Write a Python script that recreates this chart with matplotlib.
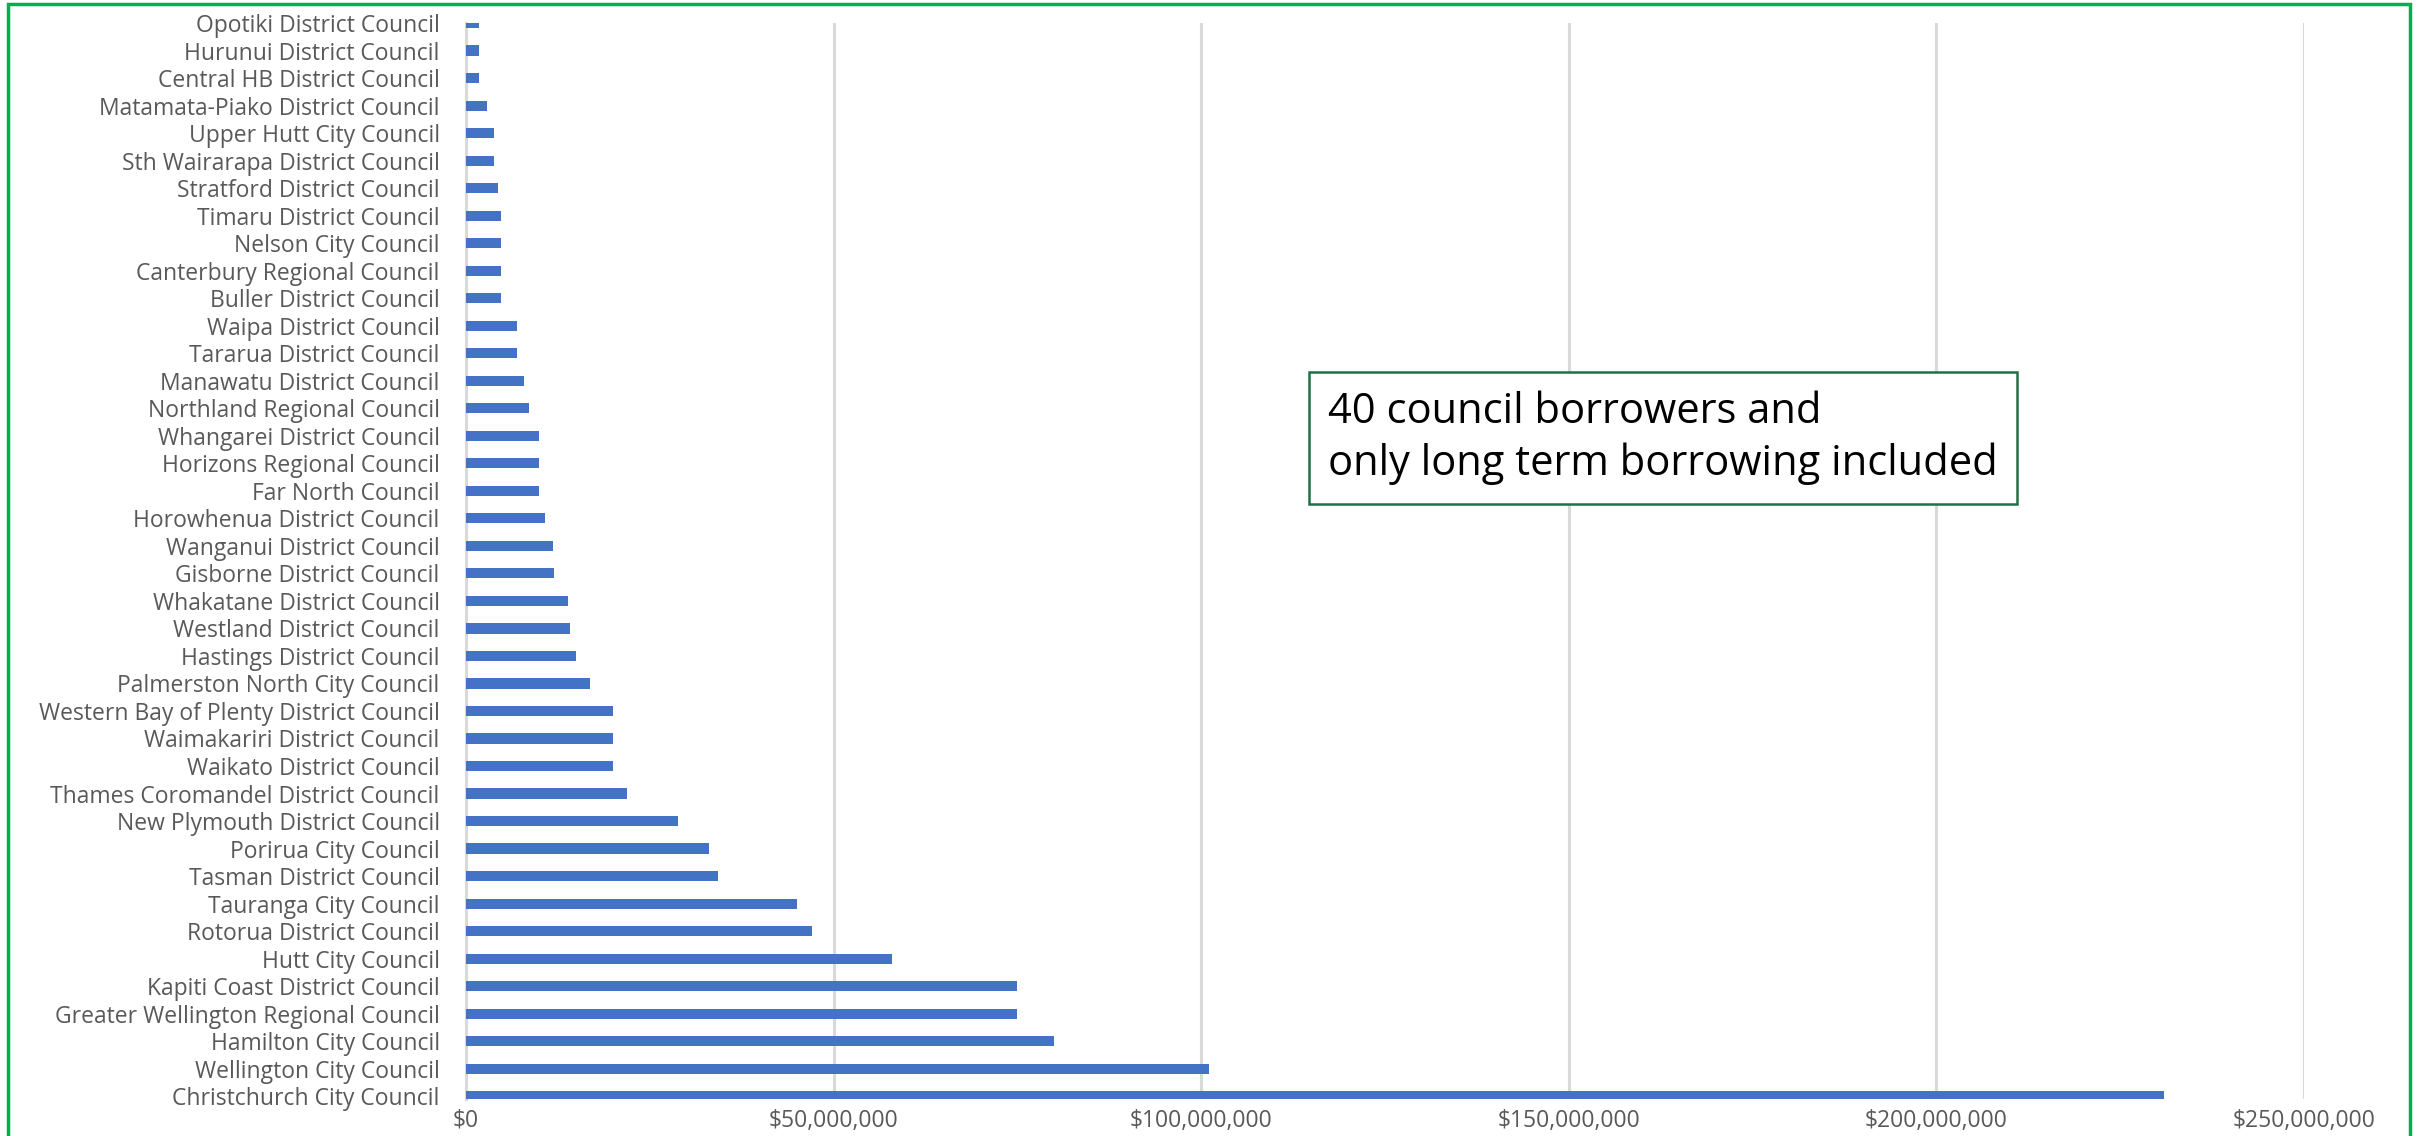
import numpy as np
import matplotlib.pyplot as plt
from matplotlib.patches import Rectangle
from matplotlib.ticker import FuncFormatter

# councils, bottom (largest) to top
councils = [
    "Christchurch City Council", "Wellington City Council", "Hamilton City Council",
    "Greater Wellington Regional Council", "Kapiti Coast District Council", "Hutt City Council",
    "Rotorua District Council", "Tauranga City Council", "Tasman District Council",
    "Porirua City Council", "New Plymouth District Council", "Thames Coromandel District Council",
    "Waikato District Council", "Waimakariri District Council", "Western Bay of Plenty District Council",
    "Palmerston North City Council", "Hastings District Council", "Westland District Council",
    "Whakatane District Council", "Gisborne District Council", "Wanganui District Council",
    "Horowhenua District Council", "Far North Council", "Horizons Regional Council",
    "Whangarei District Council", "Northland Regional Council", "Manawatu District Council",
    "Tararua District Council", "Waipa District Council", "Buller District Council",
    "Canterbury Regional Council", "Nelson City Council", "Timaru District Council",
    "Stratford District Council", "Sth Wairarapa District Council", "Upper Hutt City Council",
    "Matamata-Piako District Council", "Central HB District Council", "Hurunui District Council",
    "Opotiki District Council",
]
# long term borrowing, $ millions
borrowing_m = [
    231.0, 101.0, 80.0,
    75.0, 75.0, 58.0,
    47.0, 45.0, 34.3,
    33.0, 28.8, 21.9,
    20.0, 20.0, 20.0,
    16.8, 15.0, 14.1,
    13.9, 12.0, 11.8,
    10.7, 9.9, 9.9,
    9.9, 8.6, 7.9,
    6.9, 6.9, 4.7,
    4.7, 4.7, 4.7,
    4.4, 3.8, 3.8,
    2.8, 1.8, 1.8,
    1.8,
]
x_ticks = [0, 50e6, 100e6, 150e6, 200e6, 250e6]
note = "40 council borrowers and\nonly long term borrowing included"

values = np.array(borrowing_m) * 1e6
pos = np.arange(len(councils))

plt.rcParams["font.family"] = ["Open Sans", "DejaVu Sans"]

fig = plt.figure(figsize=(24.25, 11.36), dpi=100)
ax = fig.add_axes([0.1922, 0.0326, 0.9501 - 0.1922, 0.9797 - 0.0326])

ax.barh(pos, values, height=0.37, color="#4472C4", zorder=3)

ax.set_xlim(0, 250e6)
ax.set_ylim(-0.1, len(councils) - 1)
ax.set_xticks(x_ticks)
ax.xaxis.set_major_formatter(FuncFormatter(lambda v, p: "${:,.0f}".format(v)))
ax.set_yticks(pos)
ax.set_yticklabels(councils)
ax.tick_params(axis="y", length=0, pad=19, labelsize=16.5, labelcolor="#595959")
ax.tick_params(axis="x", length=0, pad=7, labelsize=16.5, labelcolor="#595959")

ax.grid(axis="x", color="#D9D9D9", linewidth=2.2, zorder=0)
for s in ["top", "right", "bottom"]:
    ax.spines[s].set_visible(False)
ax.spines["left"].set_color("#D9D9D9")
ax.spines["left"].set_linewidth(2.2)

# note box
ax.text(0.469, 0.614, note, transform=ax.transAxes, fontsize=30, color="black",
        va="center", ha="left", linespacing=1.3, zorder=5,
        bbox=dict(boxstyle="square,pad=0.45", facecolor="white", edgecolor="#1E7145", linewidth=1.8))

# green frame around the picture
fig.patches.append(Rectangle((8 / 2425, -0.05), (2410 - 8) / 2425, 1.05 - 4 / 1136,
                             transform=fig.transFigure, fill=False, edgecolor="#00B050",
                             linewidth=2.5, zorder=10))

fig.savefig("out.png", dpi=100, facecolor="white")
